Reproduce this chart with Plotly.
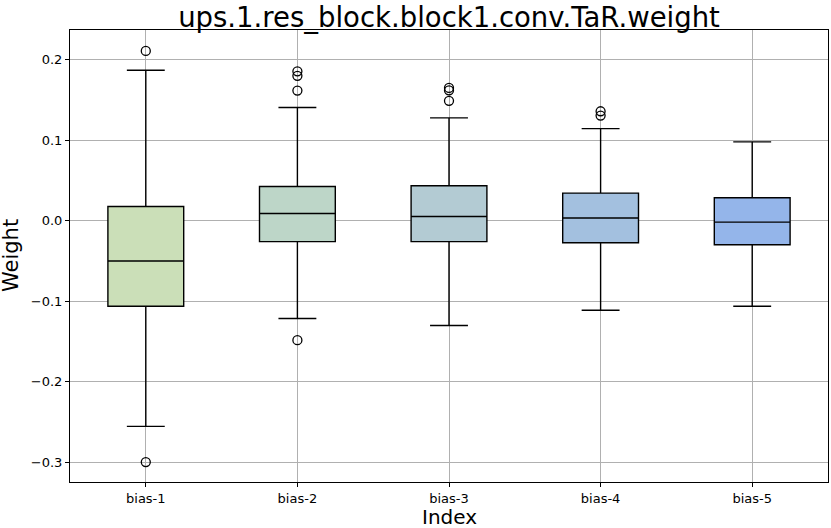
import plotly.graph_objects as go

categories = ["bias-1", "bias-2", "bias-3", "bias-4", "bias-5"]
q1_vals = [-0.1063, -0.0260, -0.0260, -0.0273, -0.0298]
median_vals = [-0.0501, 0.0090, 0.0053, 0.0033, -0.0017]
q3_vals = [0.0177, 0.0426, 0.0434, 0.0343, 0.0285]
lower_whisker = [-0.2556, -0.1216, -0.1303, -0.1113, -0.1063]
upper_whisker = [0.1870, 0.1406, 0.1278, 0.1145, 0.0980]
outliers = [
    [0.211, -0.300],
    [0.1856, 0.1800, 0.1617, -0.1485],
    [0.165, 0.162, 0.149],
    [0.136, 0.1306],
    [],
]
fill_colors = ["#cbdfb8", "#bdd6c8", "#b3cbd3", "#a3c0df", "#94b5ea"]
y_tickvals = [-0.3, -0.2, -0.1, 0.0, 0.1, 0.2]
y_ticktext = ["\u22120.3", "\u22120.2", "\u22120.1", "0.0", "0.1", "0.2"]

L, R, T, B = 70, 3, 30, 46
W, H = 831, 528
pw, ph = W - L - R, H - T - B

fig = go.Figure()
for i, cat in enumerate(categories):
    pos = i + 1
    fig.add_trace(go.Box(
        x=[pos], q1=[q1_vals[i]], median=[median_vals[i]], q3=[q3_vals[i]],
        lowerfence=[lower_whisker[i]], upperfence=[upper_whisker[i]],
        width=0.5, whiskerwidth=0.5,
        fillcolor=fill_colors[i],
        line=dict(color="black", width=1.4),
        name=cat, showlegend=False, hoverinfo="skip",
    ))
    if outliers[i]:
        fig.add_trace(go.Scatter(
            x=[pos] * len(outliers[i]), y=outliers[i], mode="markers",
            marker=dict(symbol="circle-open", size=9, color="black",
                        line=dict(width=1.3, color="black")),
            showlegend=False, hoverinfo="skip",
        ))

fig.update_layout(
    width=W, height=H,
    margin=dict(l=L, r=R, t=T, b=B, autoexpand=False),
    paper_bgcolor="white", plot_bgcolor="white",
    boxmode="overlay",
    font=dict(family="DejaVu Sans", color="black"),
    title=dict(text="ups.1.res_block.block1.conv.TaR.weight",
               x=(L + W - R) / 2 / W, xanchor="center",
               y=1 - 17 / H, yanchor="middle",
               font=dict(size=27.5, family="DejaVu Sans", color="black")),
    showlegend=False,
    annotations=[
        dict(text="Weight", xref="paper", yref="paper",
             x=(11 - L) / pw, y=0.5, xanchor="center", yanchor="middle",
             textangle=-90, showarrow=False, font=dict(size=21)),
        dict(text="Index", xref="paper", yref="paper",
             x=0.5, y=(ph - (517 - T)) / ph, xanchor="center", yanchor="middle",
             showarrow=False, font=dict(size=20)),
    ],
)
fig.update_xaxes(
    range=[0.5, 5.5], tickvals=[1, 2, 3, 4, 5], ticktext=categories,
    showgrid=True, gridcolor="#b0b0b0", gridwidth=1,
    showline=True, linecolor="black", linewidth=1, mirror=True,
    ticks="outside", ticklen=4, tickcolor="black",
    tickfont=dict(size=13), automargin=False,
    zeroline=False,
)
fig.update_yaxes(
    range=[-0.3247, 0.237], tickvals=y_tickvals, ticktext=y_ticktext,
    showgrid=True, gridcolor="#b0b0b0", gridwidth=1,
    showline=True, linecolor="black", linewidth=1, mirror=True,
    ticks="outside", ticklen=4, tickcolor="black",
    tickfont=dict(size=13), automargin=False,
    zeroline=False,
)

fig.write_html("out.html",
               config={"displayModeBar": False},
               post_script="document.body.style.margin='0';document.body.style.overflow='hidden';")
